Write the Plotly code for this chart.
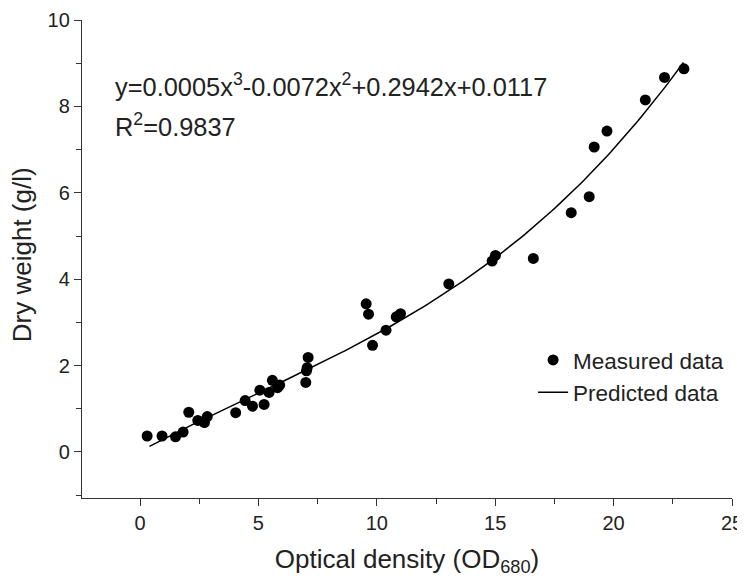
import numpy as np
import plotly.graph_objects as go

od = [0.30, 0.93, 1.50, 1.82, 2.06, 2.44, 2.72, 2.84, 4.04, 4.44, 4.75, 5.06, 5.24,
      5.45, 5.59, 5.81, 5.90, 7.00, 7.03, 7.06, 7.10, 9.55, 9.65, 9.82, 10.39, 10.82,
      11.00, 13.04, 14.87, 15.01, 16.61, 18.21, 18.97, 19.18, 19.72, 21.34, 22.15, 22.97]
dw = [0.37, 0.37, 0.35, 0.46, 0.92, 0.73, 0.68, 0.82, 0.91, 1.19, 1.06, 1.43, 1.10,
      1.38, 1.66, 1.49, 1.55, 1.61, 1.88, 1.95, 2.19, 3.43, 3.19, 2.47, 2.82, 3.13,
      3.20, 3.89, 4.42, 4.55, 4.48, 5.54, 5.91, 7.06, 7.43, 8.15, 8.67, 8.87]

# Fitted cubic coefficients
coef = [0.0005, -0.0072, 0.2942, 0.0117]
x_fit = np.linspace(0.4, 22.95, 200)
y_fit = np.polyval(coef, x_fit)

x_ticks = [0, 5, 10, 15, 20, 25]
y_ticks = [0, 2, 4, 6, 8, 10]

FONT = "Liberation Sans, Arial, sans-serif"
TXT = "#222"

fig = go.Figure()
fig.add_trace(go.Scatter(x=od, y=dw, mode="markers", name="Measured data",
                         marker=dict(color="black", size=11)))
fig.add_trace(go.Scatter(x=x_fit, y=y_fit, mode="lines", name="Predicted data",
                         line=dict(color="black", width=1.5)))

axis_common = dict(showline=True, linecolor="#333", linewidth=1.3, ticks="outside",
                   tickcolor="#333", ticklen=7, tickwidth=1.3, showgrid=False,
                   zeroline=False, ticklabeloverflow="allow",
                   tickfont=dict(size=20, color=TXT, family=FONT))

fig.update_xaxes(range=[-2.45, 25], tickvals=x_ticks,
                 minor=dict(ticks="outside", ticklen=5, tickcolor="#333", tickwidth=1.3,
                            dtick=2.5, tick0=0),
                 title=dict(text="Optical density (OD<sub>680</sub>)",
                            font=dict(size=26, color=TXT, family=FONT), standoff=16),
                 **axis_common)
fig.update_yaxes(range=[-1.065, 10], tickvals=y_ticks,
                 minor=dict(ticks="outside", ticklen=5, tickcolor="#333", tickwidth=1.3,
                            dtick=1, tick0=0),
                 **axis_common)

# y-axis title placed as rotated annotation for precise positioning
fig.add_annotation(x=-0.0923, y=0.508, xref="paper", yref="paper", xanchor="center",
                   yanchor="middle", textangle=-90, text="Dry weight (g/l)",
                   showarrow=False, font=dict(size=26, color=TXT, family=FONT))

fig.add_annotation(x=0.048, y=0.864, xref="paper", yref="paper", xanchor="left", yanchor="middle",
                   text="y=0.0005x<sup>3</sup>-0.0072x<sup>2</sup>+0.2942x+0.0117",
                   showarrow=False, font=dict(size=25.4, color=TXT, family=FONT))
fig.add_annotation(x=0.048, y=0.780, xref="paper", yref="paper", xanchor="left", yanchor="middle",
                   text="R<sup>2</sup>=0.9837",
                   showarrow=False, font=dict(size=25.4, color=TXT, family=FONT))

fig.update_layout(
    width=745, height=580,
    margin=dict(l=74, r=21, t=12, b=90, autoexpand=False),
    plot_bgcolor="white", paper_bgcolor="white",
    legend=dict(x=0.694, y=0.333, xanchor="left", yanchor="top",
                font=dict(size=22.5, color=TXT, family=FONT),
                bgcolor="rgba(0,0,0,0)"),
)

fig.write_html("out.html")
